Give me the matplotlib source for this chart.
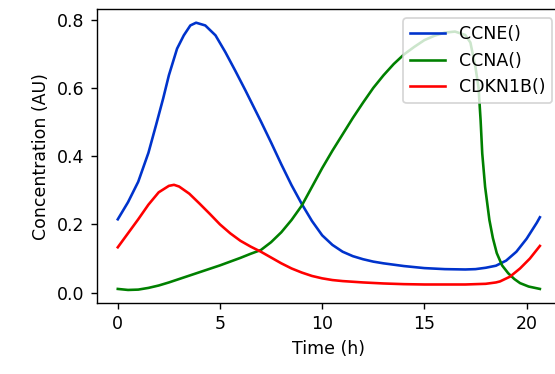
import numpy as np
import matplotlib
matplotlib.use("Agg")
import matplotlib.pyplot as plt

# Simulated cell-cycle protein levels over one cycle (time in hours)
ccne_t = [0, 0.5, 1, 1.5, 1.88, 2.22, 2.5, 2.9, 3.23, 3.55, 3.83, 4.28, 4.78,
          5.26, 5.75, 6.25, 6.75, 7, 7.5, 8, 8.5, 9, 9.5, 10, 10.5, 11, 11.5,
          12, 12.5, 13, 14, 15, 16, 17, 17.5, 18, 18.5, 19, 19.5, 20, 20.5,
          20.65]
ccne = [0.215, 0.265, 0.325, 0.410, 0.493, 0.569, 0.637, 0.715, 0.754, 0.783,
        0.791, 0.783, 0.754, 0.705, 0.650, 0.592, 0.532, 0.502, 0.440, 0.376,
        0.315, 0.260, 0.210, 0.168, 0.140, 0.120, 0.107, 0.098, 0.091, 0.086,
        0.078, 0.072, 0.069, 0.068, 0.069, 0.073, 0.079, 0.094, 0.120, 0.158,
        0.205, 0.221]

ccna_t = [0, 0.5, 1, 1.5, 2, 2.5, 3, 3.5, 4, 4.5, 5, 5.5, 6, 6.5, 7, 7.5, 8,
          8.5, 9, 9.5, 10, 10.5, 11, 11.5, 12, 12.5, 13, 13.5, 14, 14.5, 15,
          15.5, 16, 16.5, 17, 17.25, 17.5, 17.65, 17.75, 17.83, 17.97, 18.18,
          18.35, 18.54, 18.8, 19.1, 19.4, 19.68, 20.1, 20.65]
ccna = [0.011, 0.008, 0.009, 0.014, 0.021, 0.030, 0.040, 0.050, 0.060, 0.070,
        0.080, 0.091, 0.102, 0.114, 0.125, 0.148, 0.177, 0.213, 0.255, 0.310,
        0.365, 0.416, 0.464, 0.512, 0.557, 0.600, 0.637, 0.670, 0.698, 0.720,
        0.740, 0.753, 0.762, 0.765, 0.755, 0.733, 0.660, 0.600, 0.505, 0.408,
        0.310, 0.213, 0.160, 0.116, 0.080, 0.057, 0.040, 0.028, 0.018, 0.011]

cdkn1b_t = [0, 0.5, 1, 1.5, 2, 2.5, 2.75, 3, 3.5, 4, 4.5, 5, 5.5, 6, 6.5, 7,
            7.5, 8, 8.5, 9, 9.5, 10, 10.5, 11, 12, 13, 14, 15, 16, 17, 18,
            18.5, 18.7, 19.19, 19.68, 20.16, 20.65]
cdkn1b = [0.133, 0.174, 0.215, 0.258, 0.294, 0.313, 0.316, 0.311, 0.290, 0.261,
          0.231, 0.200, 0.174, 0.152, 0.135, 0.120, 0.103, 0.086, 0.071, 0.059,
          0.049, 0.042, 0.037, 0.034, 0.030, 0.027, 0.025, 0.024, 0.024, 0.024,
          0.026, 0.030, 0.033, 0.047, 0.071, 0.100, 0.137]

series = [("CCNE()", ccne_t, ccne, "#0033cc"),
          ("CCNA()", ccna_t, ccna, "green"),
          ("CDKN1B()", cdkn1b_t, cdkn1b, "red")]

fig = plt.figure(figsize=(555 / 125, 374 / 125), dpi=125)
ax = fig.add_axes([0.1742, 0.189, 0.8366, 0.786])

for name, t, values, color in series:
    ax.plot(t, values, color=color, label=name, solid_joinstyle="round")

ax.set_xlabel("Time (h)")
ax.set_ylabel("Concentration (AU)")
ax.set_xticks([0, 5, 10, 15, 20])
ax.set_yticks([0.0, 0.2, 0.4, 0.6, 0.8])
ax.legend(loc="upper right")

fig.savefig("out.png", dpi=125)
